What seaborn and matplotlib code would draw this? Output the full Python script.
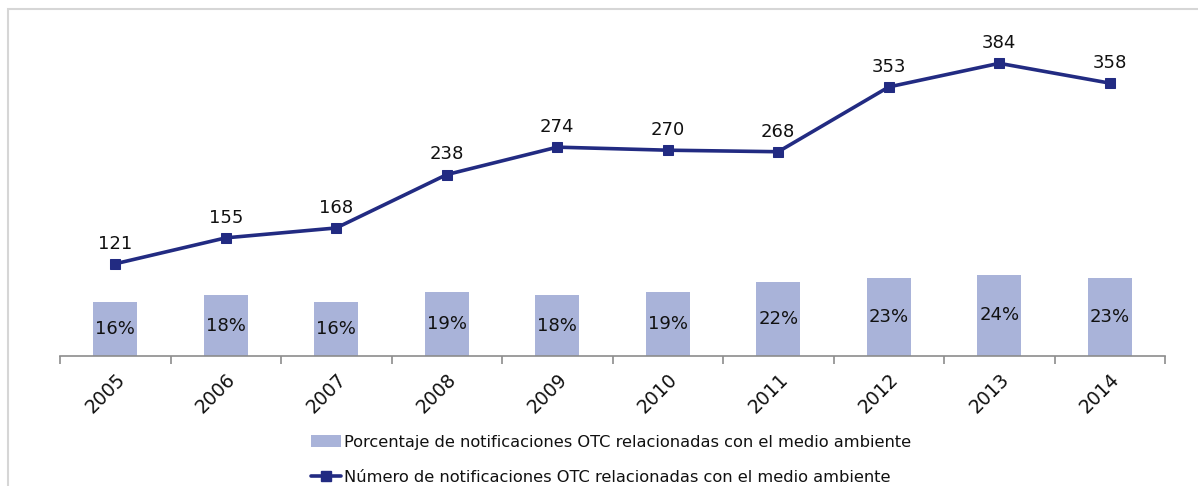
import matplotlib
matplotlib.use("Agg")
import matplotlib.pyplot as plt
import seaborn as sns
import pandas as pd
from matplotlib.patches import Rectangle
from matplotlib.lines import Line2D
from matplotlib.patches import Patch

years = ["2005", "2006", "2007", "2008", "2009", "2010", "2011", "2012", "2013", "2014"]
pct = [16, 18, 16, 19, 18, 19, 22, 23, 24, 23]
counts = [121, 155, 168, 238, 274, 270, 268, 353, 384, 358]
bar_label = "Porcentaje de notificaciones OTC relacionadas con el medio ambiente"
line_label = "Número de notificaciones OTC relacionadas con el medio ambiente"

bar_color = "#A9B3D9"
line_color = "#222B82"
text_color = "#111111"

sns.set_theme(style="white")
plt.rcParams["font.family"] = ["DejaVu Sans"]

df = pd.DataFrame({"year": years, "pct": pct, "count": counts})

W, H = 1198, 486
fig = plt.figure(figsize=(W / 100, H / 100), dpi=100)
ax = fig.add_axes([60 / W, 1 - 356 / H, (1165 - 60) / W, (356 - 13) / H])

sns.barplot(data=df, x="year", y="pct", color=bar_color, width=0.4,
            saturation=1, ax=ax, edgecolor="none")
ax.set_ylim(0, 101.5)
ax.set_xlim(-0.5, len(years) - 0.5)

for i, v in enumerate(pct):
    ax.text(i, v / 2, f"{v}%", ha="center", va="center", fontsize=13, color=text_color)

ax2 = ax.twinx()
sns.lineplot(data=df, x="year", y="count", color=line_color, linewidth=2.6,
             marker="s", markersize=7, markeredgecolor=line_color, ax=ax2, sort=False)
ax2.set_ylim(0, 450)
ax2.set_xlim(-0.5, len(years) - 0.5)
for i, v in enumerate(counts):
    ax2.annotate(str(v), (i, v), xytext=(0, 8), textcoords="offset points",
                 ha="center", va="bottom", fontsize=13, color=text_color)

for a in (ax, ax2):
    a.set_xlabel("")
    a.set_ylabel("")
    a.set_yticks([])
    for s in ("top", "right", "left"):
        a.spines[s].set_visible(False)
ax2.spines["bottom"].set_visible(False)
ax2.tick_params(axis="x", which="both", bottom=False, labelbottom=False)

ax.spines["bottom"].set_color("#8C8C8C")
ax.spines["bottom"].set_linewidth(1.2)
ax.set_xticks([i - 0.5 for i in range(len(years) + 1)])
ax.set_xticklabels([])
ax.set_xticks(range(len(years)), minor=True)
ax.set_xticklabels(years, minor=True, rotation=45, ha="right", va="top",
                   rotation_mode="anchor", fontsize=13.5, color=text_color)
ax.tick_params(axis="x", which="major", direction="out", length=6, width=1.2,
               color="#8C8C8C", bottom=True)
ax.tick_params(axis="x", which="minor", length=0, pad=10, bottom=True)

handles = [Patch(facecolor=bar_color, edgecolor="none"),
           Line2D([0], [0], color=line_color, linewidth=2.6, marker="s", markersize=7)]
fig.legend(handles, [bar_label, line_label], loc="upper left",
           bbox_to_anchor=(304 / W, 1 - 428 / H), frameon=False, fontsize=11.7,
           handlelength=1.9, handletextpad=0.15, labelspacing=1.25,
           borderaxespad=0, labelcolor=text_color)

fig.patches.append(Rectangle((8 / W, -0.1), 1.2, 1 - 9 / H + 0.1,
                             transform=fig.transFigure, fill=False,
                             edgecolor="#D6D6D6", linewidth=1.5))

fig.savefig("out.png", dpi=100)
